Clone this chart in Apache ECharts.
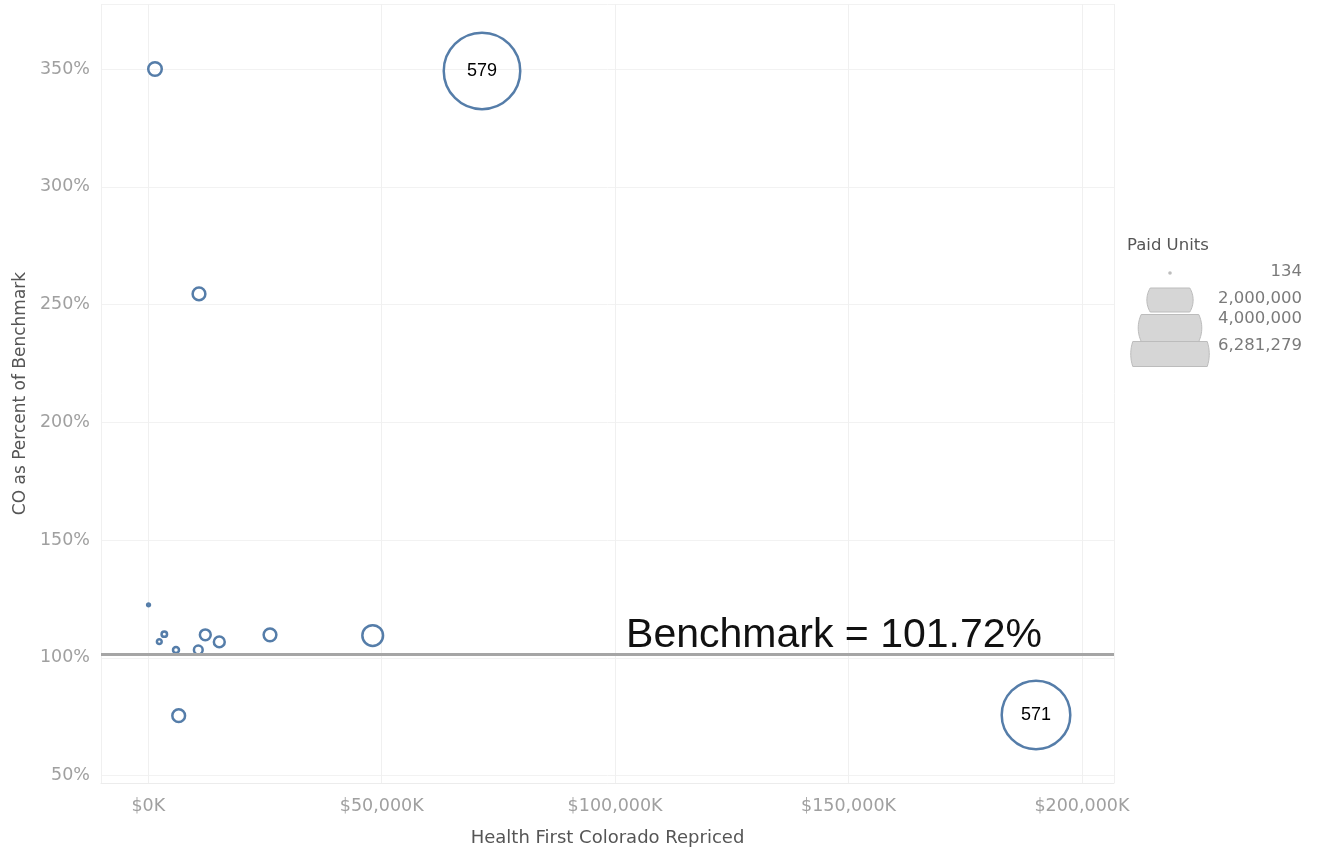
<!DOCTYPE html>
<html>
<head>
<meta charset="utf-8">
<script src="https://cdn.jsdelivr.net/npm/echarts@6/dist/echarts.min.js"></script>
<style>
html,body{margin:0;padding:0;background:#fff;}
#chart{width:1318px;height:852px;}
</style>
</head>
<body>
<div id="chart"></div>
<script>
// ---- data ----
const repricedK = [1435, 71486, 10861, 50, 3428, 2356, 5934, 10711, 12211, 15210, 26071, 48072, 6512, 190167];
const pctOfBenchmark = [350, 349.2, 254.5, 122.5, 110.1, 106.9, 103.4, 103.4, 109.8, 106.8, 109.8, 109.5, 75.5, 75.8];
const paidUnits = [140000, 6281279, 120000, 134, 10300, 6000, 14000, 45000, 80000, 80000, 120000, 380000, 120000, 5010000];
const pointLabels = ['', '579', '', '', '', '', '', '', '', '', '', '', '', '571'];
const benchmark = 101.72;
const legendUnits = [134, 2000000, 4000000, 6281279];
const legendLabels = ['134', '2,000,000', '4,000,000', '6,281,279'];
const xTitle = 'Health First Colorado Repriced';
const yTitle = 'CO as Percent of Benchmark';
const legendTitle = 'Paid Units';

const maxUnits = Math.max(...paidUnits);
function sizeOf(u) { return 2.5 + 74 * Math.sqrt(u / maxUnits); }

const data = repricedK.map((x, i) => [x, pctOfBenchmark[i], paidUnits[i], pointLabels[i]]);

const FONT = 'DejaVu Sans';
const chart = echarts.init(document.getElementById('chart'));

// legend graphics (barrel shapes = circles clipped top/bottom)
const legendEls = [];
legendEls.push({type:'text', left:1127, top:237, style:{text:legendTitle, font:'16.5px "DejaVu Sans"', fill:'#555'}});
const legendTextY = [273, 300, 320, 347];
const legendShapeY = [273, 300, 328, 354];
const legendShapeH = [0, 24, 27, 25];
function barrel(cx, cy, w, h) {
  const R = w / 2, pts = [], n = 16;
  const a = Math.asin(Math.min(1, (h / 2) / R));
  for (let i = 0; i <= n; i++) { const t = -a + 2 * a * i / n; pts.push([cx + R * Math.cos(t), cy + R * Math.sin(t)]); }
  for (let i = 0; i <= n; i++) { const t = Math.PI - a + 2 * a * i / n; pts.push([cx + R * Math.cos(t), cy + R * Math.sin(t)]); }
  return pts;
}
legendUnits.forEach((u, i) => {
  const w = sizeOf(u) + 2;
  const cy = legendShapeY[i];
  if (i === 0) {
    legendEls.push({type:'circle', shape:{cx:1170, cy:cy, r:1.8}, style:{fill:'#bdbdbd'}});
  } else {
    legendEls.push({type:'polygon', z: 1, shape:{points: barrel(1170, cy, w, legendShapeH[i])}, style:{fill:'#d6d6d6', stroke:'#bcbcbc', lineWidth:1}});
  }
  legendEls.push({type:'text', z: 2, right:1318-1302, top:legendTextY[i]-10, style:{text:legendLabels[i], font:'16.5px "DejaVu Sans"', fill:'#7a7a7a', textAlign:'right'}});
});

chart.setOption({
  animation: false,
  backgroundColor: '#fff',
  grid: {left: 101, right: 204, top: 4, bottom: 69, containLabel: false, outerBoundsMode: 'none'},
  xAxis: {
    type: 'value', min: -10133, max: 206876, splitNumber: 4,
    name: xTitle, nameLocation: 'middle', nameGap: 46,
    nameTextStyle: {color: '#555', fontSize: 18, fontFamily: FONT},
    axisLine: {show: true, lineStyle: {color: '#ececec'}},
    axisTick: {show: false},
    axisLabel: {color: '#a0a0a0', fontSize: 17.5, fontFamily: FONT, margin: 14,
      formatter: v => (v % 50000 === 0) ? ('$' + (v === 0 ? '0' : v.toLocaleString('en-US')) + 'K') : ''},
    splitLine: {show: true, lineStyle: {color: '#f0f0f0'}}
  },
  yAxis: {
    type: 'value', min: 46.9, max: 377.6, splitNumber: 7,
    name: yTitle, nameLocation: 'middle', nameGap: 70, nameRotate: 90,
    nameTextStyle: {color: '#555', fontSize: 17, fontFamily: FONT},
    axisLine: {show: false},
    axisTick: {show: false},
    axisLabel: {color: '#a0a0a0', fontSize: 17.5, fontFamily: FONT, margin: 11,
      formatter: v => (Math.abs(v % 50) < 1e-6) ? (v + '%') : ''},
    splitLine: {show: true, lineStyle: {color: '#f2f2f2'}}
  },
  series: [{
    type: 'scatter',
    data: data,
    symbol: 'circle',
    symbolSize: d => sizeOf(d[2]),
    itemStyle: {color: 'rgba(255,255,255,0)', borderColor: '#557da9', borderWidth: 2.5, opacity: 1},
    label: {show: true, position: 'inside', formatter: p => p.data[3], color: '#000', fontSize: 18, fontFamily: 'Liberation Sans'},
    markLine: {
      silent: true, symbol: 'none',
      lineStyle: {color: '#a5a5a5', width: 3, type: 'solid'},
      label: {show: true, position: 'insideEndTop', formatter: 'Benchmark = ' + benchmark.toFixed(2) + '%',
        color: '#111', fontSize: 41, lineHeight: 36, fontFamily: 'Liberation Sans', padding: [0, 72, 0, 0], distance: 0},
      data: [{yAxis: benchmark}]
    },
    z: 3
  }],
  graphic: legendEls
});
</script>
</body>
</html>
